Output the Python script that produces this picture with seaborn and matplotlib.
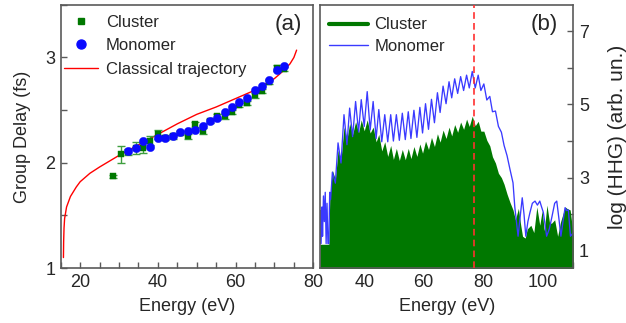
import numpy as np
import pandas as pd
import matplotlib
matplotlib.use("Agg")
import matplotlib.pyplot as plt
from matplotlib.lines import Line2D
from matplotlib.ticker import MultipleLocator, FixedLocator
import seaborn as sns

# ---------------- Panel (a) data ----------------
mono_E = [32.3, 34.3, 36.2, 38.1, 40.0, 41.9, 43.8, 45.8, 47.7, 49.6, 51.5,
          53.4, 55.3, 57.2, 59.1, 61.0, 62.9, 64.9, 66.8, 68.7, 70.6, 72.5]
mono_delay = [2.11, 2.14, 2.21, 2.15, 2.24, 2.24, 2.25, 2.29, 2.30, 2.31, 2.35,
              2.40, 2.43, 2.48, 2.53, 2.575, 2.62, 2.69, 2.73, 2.79, 2.88, 2.92]

clus_E = [28.5, 30.4, 32.3, 34.3, 36.2, 38.1, 40.0, 41.9, 43.8, 45.8, 47.7, 49.6,
          51.5, 53.4, 55.3, 57.2, 59.1, 61.0, 62.9, 64.9, 66.8, 68.7, 70.6, 72.5]
clus_delay = [1.87, 2.08, 2.10, 2.14, 2.14, 2.21, 2.27, 2.24, 2.25, 2.28, 2.25, 2.365,
              2.30, 2.40, 2.44, 2.44, 2.48, 2.55, 2.57, 2.64, 2.68, 2.77, 2.90, 2.89]
clus_err = [0.01, 0.08, 0.03, 0.06, 0.05, 0.04, 0.04, 0.02, 0.025, 0.02, 0.025, 0.025,
            0.03, 0.02, 0.02, 0.02, 0.02, 0.02, 0.02, 0.02, 0.02, 0.02, 0.025, 0.02]

traj_E = [15.7, 15.75, 15.85, 16.0, 16.5, 17.5, 19.0, 20.0, 22.5, 25.0, 30.0, 35.0,
          40.0, 45.0, 50.0, 55.0, 60.0, 65.0, 70.0, 72.5, 74.0, 75.0, 75.7]
traj_delay = [1.10, 1.25, 1.38, 1.47, 1.58, 1.68, 1.77, 1.82, 1.90, 1.96, 2.07, 2.17,
              2.27, 2.37, 2.46, 2.53, 2.61, 2.69, 2.80, 2.88, 2.94, 3.00, 3.07]

# ---------------- Panel (b) data ----------------
spec_mono_E = [25.1, 25.3, 25.5, 25.8, 26.0, 26.3, 26.6, 26.9, 27.2, 27.5, 27.8, 28.1,
               28.4, 28.7, 29.3, 30.3, 31.2, 32.2,
               33.2, 34.2, 35.1, 36.1, 37.1, 38.1, 39.0, 40.0, 41.0, 42.0, 43.0, 44.0,
               44.9, 45.9, 46.9, 47.9, 48.9, 49.8, 50.8, 51.8, 52.8, 53.8, 54.8, 55.7,
               56.7, 57.7, 58.7, 59.6, 60.6, 61.6, 62.6, 63.6, 64.6, 65.5, 66.5, 67.5,
               68.5, 69.4, 70.4, 71.4, 72.4, 73.4, 74.4, 75.3, 76.3, 77.3, 78.3, 79.2,
               80.2, 81.2, 82.2, 83.1, 84.1, 85.1, 86.1, 87.0, 88.0, 89.0, 90.0,
               90.6, 91.7, 92.5, 93.1, 93.7, 94.3, 95.0, 95.7, 96.5, 97.4, 98.2, 99.0,
               99.6, 100.2, 100.8, 101.3, 102.2, 103.0, 104.0, 104.7, 105.4, 106.1,
               106.8, 107.5, 108.0, 108.6, 109.3, 110.3]
spec_mono = [1.2, 2.1, 1.2, 2.2, 1.4, 2.5, 1.8, 2.6, 1.2, 2.3, 1.2, 1.2,
             2.6, 2.4, 3.15, 2.85, 3.95, 3.4,
             4.72, 3.90, 4.90, 4.12, 5.08, 4.25, 5.13, 4.40, 5.35, 4.30, 5.08, 4.07,
             4.86, 3.98, 4.72, 3.98, 4.72, 4.00, 4.72, 4.02, 4.76, 4.04, 4.80, 4.07,
             4.84, 4.10, 4.92, 4.22, 5.02, 4.32, 5.14, 4.50, 5.32, 4.78, 5.50, 5.02,
             5.62, 5.18, 5.70, 5.30, 5.76, 5.38, 5.80, 5.45, 5.90, 5.45, 5.80, 5.38,
             5.56, 5.12, 5.22, 4.80, 4.82, 4.40, 4.24, 3.88, 3.60, 3.22, 2.86,
             2.2, 1.4, 2.0, 2.45, 2.0, 1.4, 1.8, 2.05, 2.3, 2.36, 2.25, 2.36,
             2.2, 2.05, 1.7, 1.4, 1.6, 1.9, 2.3, 2.36, 1.9, 1.4,
             1.8, 2.18, 2.1, 2.12, 1.4, 1.5]

spec_clus_E = [25.1, 28.1, 28.4, 29.3, 30.3, 31.2, 32.2, 33.2, 34.2, 35.1, 36.1, 37.1,
               38.1, 39.0, 40.0, 41.0, 42.0, 43.0, 44.0, 44.9, 45.9, 46.9, 47.9, 48.9,
               49.8, 50.8, 51.8, 52.8, 53.8, 54.8, 55.7, 56.7, 57.7, 58.7, 59.6, 60.6,
               61.6, 62.6, 63.6, 64.6, 65.5, 66.5, 67.5, 68.5, 69.4, 70.4, 71.4, 72.4,
               73.4, 74.4, 75.3, 76.3, 77.3, 78.3, 79.2, 80.2, 81.2, 82.2, 83.1, 84.1,
               85.1, 86.1, 87.0, 88.0, 89.0, 90.0, 90.8, 91.8, 92.6, 93.2, 94.1, 94.8,
               96.0, 97.0, 98.0, 99.0, 99.8, 100.5, 101.4, 102.3, 103.0, 104.0, 105.0,
               106.0, 107.5, 108.3, 109.2, 110.3]
spec_clus = [1.18, 1.18, 2.4, 3.2, 2.95, 3.75, 3.5, 4.38, 4.05, 4.48, 4.18, 4.53,
             4.23, 4.58, 4.28, 4.58, 4.22, 4.38, 3.98, 4.18, 3.73, 3.98, 3.58, 3.88,
             3.50, 3.80, 3.47, 3.77, 3.49, 3.80, 3.52, 3.85, 3.58, 3.92, 3.67, 4.00,
             3.77, 4.10, 3.85, 4.20, 3.97, 4.30, 4.07, 4.38, 4.14, 4.45, 4.24, 4.52,
             4.32, 4.60, 4.40, 4.68, 4.42, 4.54, 4.27, 4.27, 4.02, 3.87, 3.57, 3.40,
             3.12, 3.00, 2.82, 2.55, 2.32, 2.12, 1.85, 2.16, 1.70, 1.40, 1.35, 1.60,
             1.70, 1.50, 2.20, 1.70, 2.10, 1.55, 2.25, 1.75, 1.76, 1.85, 1.40,
             1.80, 2.20, 2.15, 2.12, 1.40]

cutoff_E = 77.0
hhg_ticks = [1, 3, 5, 7]
hhg_minor = [2, 4, 6]

# ---------------- styling ----------------
sns.set_theme(style="ticks")
plt.rcParams['font.family'] = ['Liberation Sans', 'DejaVu Sans']

GREEN = '#007800'
BLUE = '#0a0aff'
LBLUE = '#3a3aff'
SPINE = '#5a5a5a'

fig = plt.figure(figsize=(6.26, 3.23), dpi=100)
axa = fig.add_axes([0.097, 0.170, 0.4035, 0.815])
axb = fig.add_axes([0.511, 0.170, 0.405, 0.815])

# ---- panel (a) ----
sns.lineplot(x=traj_E, y=traj_delay, ax=axa, color='red', lw=1.0,
             sort=False, estimator=None, legend=False, zorder=1)
axa.errorbar(clus_E, clus_delay, yerr=clus_err, fmt='none', ecolor='#3f9f3f',
             elinewidth=1.0, capsize=3, capthick=1.0, zorder=2)
sns.scatterplot(x=clus_E, y=clus_delay, ax=axa, marker='s', s=22, color=GREEN,
                edgecolor=GREEN, linewidth=0.3, zorder=3, legend=False)
sns.scatterplot(x=mono_E, y=mono_delay, ax=axa, marker='o', s=36, color=BLUE,
                edgecolor=BLUE, linewidth=0.3, zorder=4, legend=False)

axa.set_xlim(15, 80)
axa.set_ylim(1, 3.5)
axa.xaxis.set_major_locator(MultipleLocator(20))
axa.xaxis.set_minor_locator(MultipleLocator(5))
axa.yaxis.set_major_locator(MultipleLocator(1))
axa.yaxis.set_minor_locator(MultipleLocator(0.5))
axa.set_xlabel('Energy (eV)', fontsize=13, labelpad=5)
axa.set_ylabel('Group Delay (fs)', fontsize=13, labelpad=10)

ha = [Line2D([], [], marker='s', ls='none', color=GREEN, ms=5),
      Line2D([], [], marker='o', ls='none', color=BLUE, ms=6.5),
      Line2D([], [], color='red', lw=1.0)]
axa.legend(ha, ['Cluster', 'Monomer', 'Classical trajectory'], loc='upper left',
           bbox_to_anchor=(-0.025, 1.0), frameon=False, fontsize=12,
           handlelength=2.0, handletextpad=0.5, labelspacing=0.5,
           borderaxespad=0.2)
axa.text(0.90, 0.925, '(a)', transform=axa.transAxes, fontsize=16,
         ha='center', va='center')

# ---- panel (b) ----
axb.fill_between(spec_clus_E, 0, spec_clus, color=GREEN, lw=0, zorder=1)
sns.lineplot(x=spec_mono_E, y=spec_mono, ax=axb, color=LBLUE, lw=0.95,
             sort=False, estimator=None, legend=False, zorder=2)
axb.axvline(cutoff_E, color='#ff3030', lw=1.2, ls=(0, (4, 2.5)), zorder=3)

axb.set_xlim(25.1, 110.3)
axb.set_ylim(0.53, 7.72)
axb.xaxis.set_major_locator(MultipleLocator(20))
axb.xaxis.set_minor_locator(MultipleLocator(10))
axb.yaxis.set_major_locator(FixedLocator(hhg_ticks))
axb.yaxis.set_minor_locator(FixedLocator(hhg_minor))
axb.yaxis.tick_right()
axb.yaxis.set_label_position('right')
axb.set_xlabel('Energy (eV)', fontsize=13, labelpad=5)
axb.set_ylabel('log (HHG) (arb. un.)', fontsize=15, labelpad=14)

hb = [Line2D([], [], color=GREEN, lw=3.0),
      Line2D([], [], color=LBLUE, lw=1.0)]
axb.legend(hb, ['Cluster', 'Monomer'], loc='upper left',
           bbox_to_anchor=(-0.012, 1.0), frameon=False, fontsize=12,
           handlelength=2.3, handletextpad=0.4, labelspacing=0.38,
           borderaxespad=0.35)
axb.text(0.885, 0.925, '(b)', transform=axb.transAxes, fontsize=16,
         ha='center', va='center')

for ax in (axa, axb):
    for s in ax.spines.values():
        s.set_visible(True)
        s.set_color(SPINE)
        s.set_linewidth(1.2)
    ax.tick_params(which='both', direction='in', length=4, width=1.0,
                   color=SPINE, labelsize=13, pad=4)
axa.tick_params(which='both', top=False, right=False)
axb.tick_params(which='both', top=False, left=False, right=True)

fig.savefig('out.png', dpi=100)
